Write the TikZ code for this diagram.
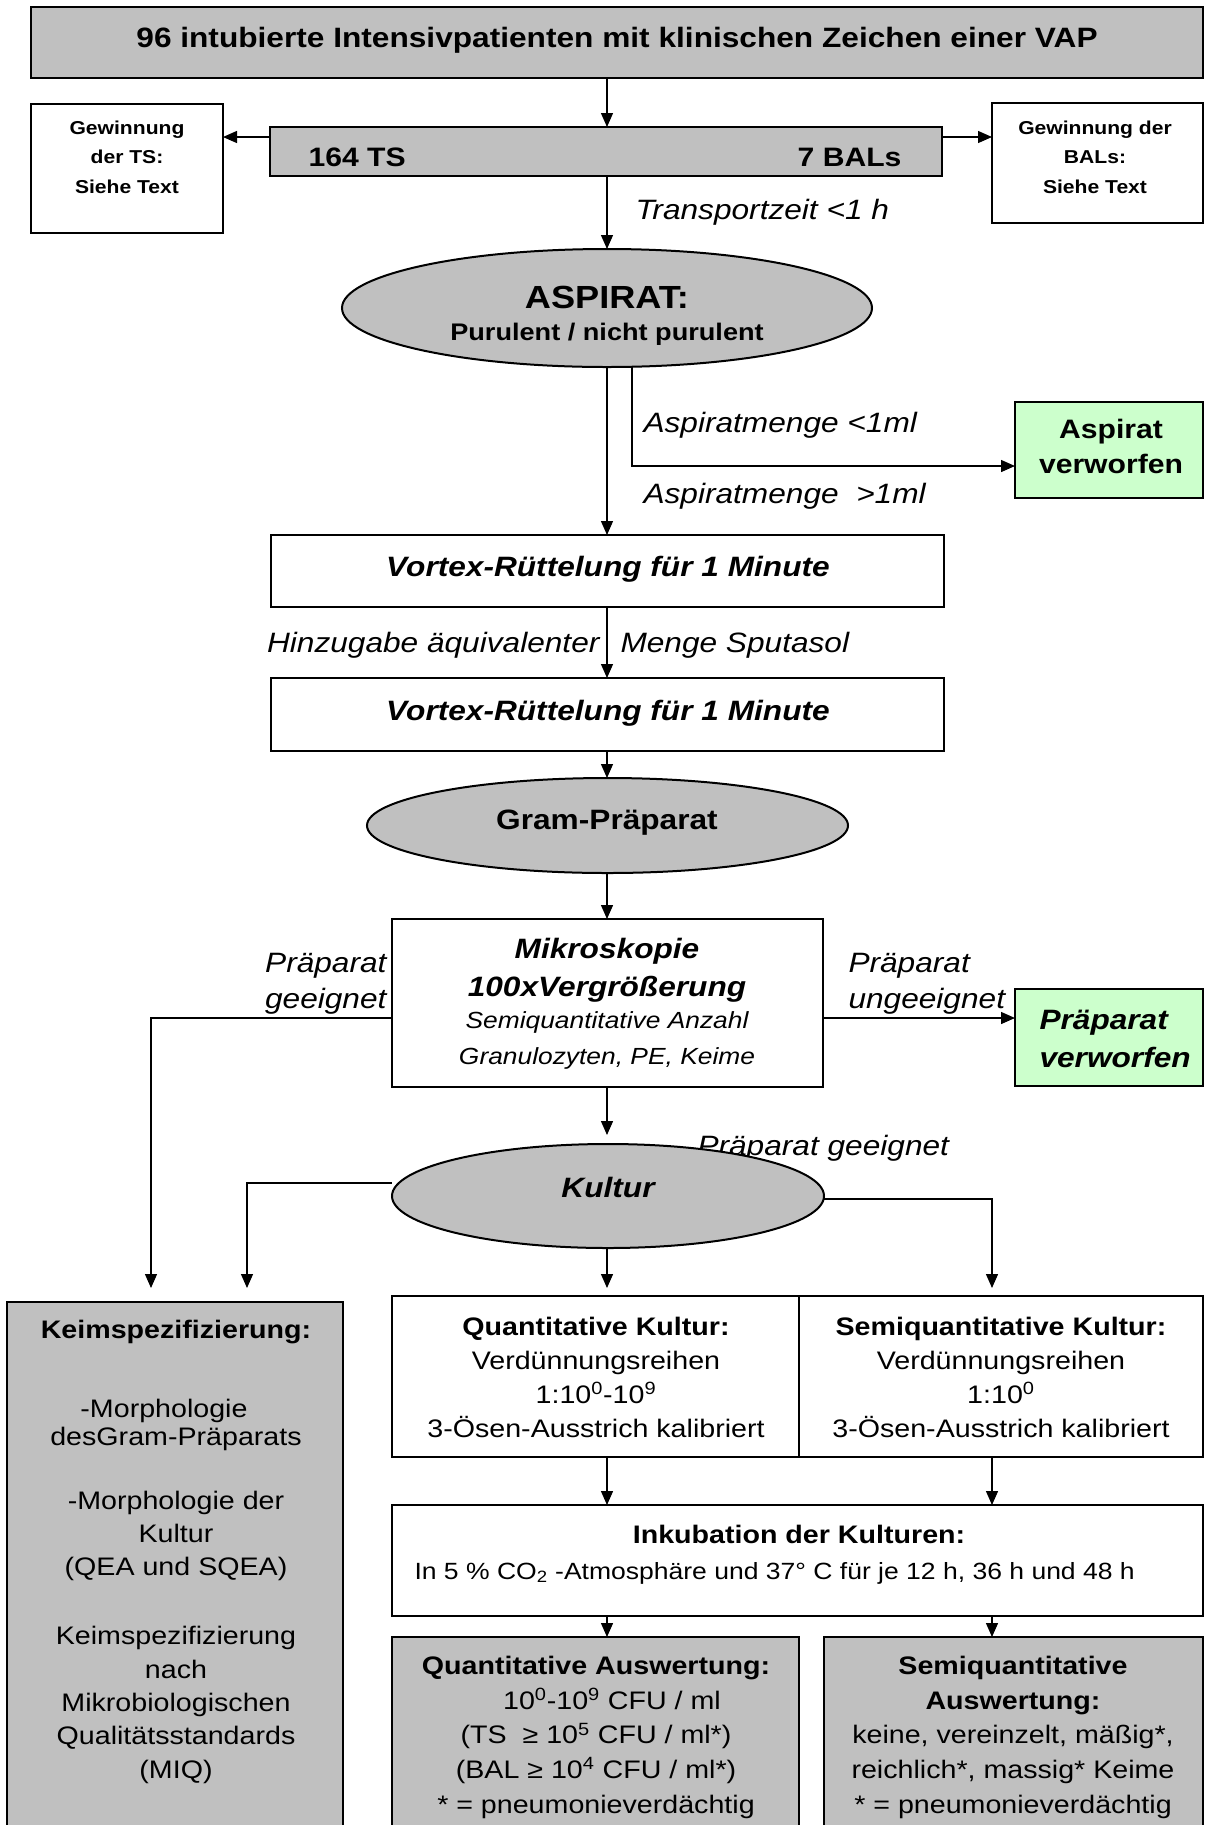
\documentclass[tikz,border=0pt]{standalone}
\usepackage{fontspec}
\setmainfont{Liberation Sans}[FakeStretch=1.13]
\usetikzlibrary{arrows.meta,shapes.geometric}

\definecolor{fillgray}{RGB}{192,192,192}
\definecolor{fillgreen}{RGB}{204,255,204}
\newcommand{\fsz}[2]{\fontsize{#1}{#2}\selectfont}

\tikzset{every picture/.style={line width=0.75pt}}
\tikzset{
  rbox/.style 2 args={draw, line width=1.5pt, inner sep=0pt, outer sep=0pt, anchor=north west,
    minimum width=#1*0.75pt, minimum height=#2*0.75pt},
  oval/.style 2 args={draw, ellipse, fill=fillgray, line width=1.5pt, inner sep=0pt, outer sep=0pt,
    minimum width=#1*0.75pt, minimum height=#2*0.75pt},
  conn/.style={line width=1pt, -{Triangle[length=10.5pt,width=9pt]}},
  txt/.style={inner sep=0.75pt, anchor=base, align=center},
  lbl/.style={font=\fsz{21pt}{27pt}\itshape},
  bbi/.style={font=\fsz{21pt}{28.5pt}\bfseries\itshape},
  body/.style={font=\fsz{19pt}{#1}},
}

\begin{document}
\begin{tikzpicture}[x=0.75pt,y=0.75pt,yscale=-1,xscale=1]
\useasboundingbox (0,0) rectangle (1205,1825);
%Shape: Rectangle
\node [rbox={1172}{71}, fill=fillgray] (patients) at (31,7) {};
\node [rbox={192}{129}] (tsget) at (31,104) {};
\node [rbox={672}{49}, fill=fillgray] (tsbox) at (270,127) {};
\node [rbox={211}{120}] (balget) at (992,103) {};
%Shape: Ellipse
\node [oval={530}{118}] (aspirat) at (607,308) {};
%Shape: Rectangle
\node [rbox={188}{96}, fill=fillgreen] (dropasp) at (1015,402) {};
\node [rbox={673}{72}] (vortexa) at (271,535) {};
\node [rbox={673}{73}] (vortexb) at (271,678) {};
%Shape: Ellipse
\node [oval={481}{95}] (gram) at (607.5,825.5) {};
%Shape: Rectangle
\node [rbox={431}{168}] (mikro) at (392,919) {};
\node [rbox={188}{97}, fill=fillgreen] (dropgram) at (1015,989) {};
% Text Node
\node [txt, anchor=base west, lbl] (okkulturtxt) at (696,1155) {Präparat geeignet};
%Shape: Ellipse
\node [oval={432}{104}] (kultur) at (608,1196) {};
%Shape: Rectangle
\node [rbox={336}{540}, fill=fillgray] (keim) at (7,1302) {};
\node [rbox={407}{161}] (quantk) at (392,1296) {};
\node [rbox={404}{161}] (semik) at (799,1296) {};
\node [rbox={811}{111}] (inkub) at (392,1505) {};
\node [rbox={407}{200}, fill=fillgray] (quanta) at (392,1637) {};
\node [rbox={379}{200}, fill=fillgray] (semia) at (824,1637) {};

\coordinate (axis) at (607,0);
\coordinate (sideline) at (0,137);
\coordinate (aspcut) at (632,466);
\coordinate (okline) at (0,1018);
\coordinate (leftdrop) at (151,1288);
\coordinate (kulleft) at (247,1183);
\coordinate (kulright) at (992,1199);
\coordinate (rightdrop) at (992,1288);

%Straight Lines
\draw [conn] (patients.south -| axis) -- (tsbox.north -| axis);
\draw [conn] (tsbox.west |- sideline) -- (tsget.east |- sideline);
\draw [conn] (tsbox.east |- sideline) -- (balget.west |- sideline);
\draw [conn] (tsbox.south -| axis) -- (aspirat.north);
\draw [conn] (aspirat.south) -- (vortexa.north -| axis);
\draw [conn] (aspirat.south -| aspcut) -- (aspcut) -- (dropasp.west |- aspcut);
\draw [conn] (vortexa.south -| axis) -- (vortexb.north -| axis);
\draw [conn] (vortexb.south -| axis) -- (gram.north -| axis);
\draw [conn] (gram.south -| axis) -- (mikro.north -| axis);
\draw [conn] (mikro.east |- okline) -- (dropgram.west |- okline);
\draw [conn] (mikro.west |- okline) -| (leftdrop);
\draw [conn, shorten >=6.75pt] (mikro.south -| axis) -- (kultur.north -| axis);
\draw [conn] (kultur.west |- kulleft) -- (kulleft) -- (kulleft |- leftdrop);
\draw [conn] (kultur.east |- kulright) -- (kulright) -- (rightdrop);
\draw [conn] (kultur.south -| axis) -- (leftdrop -| axis);
\draw [conn] (quantk.south -| axis) -- (inkub.north -| axis);
\draw [conn] (semik.south -| rightdrop) -- (inkub.north -| rightdrop);
\draw [conn] (inkub.south -| axis) -- (quanta.north -| axis);
\draw [conn] (inkub.south -| rightdrop) -- (semia.north -| rightdrop);

% Text Node (multi-line nodes sit on the baseline of their last line)
\node [txt, font=\fsz{21pt}{25pt}\bfseries] (toptxt) at (617,47) {96 intubierte Intensivpatienten mit klinischen Zeichen einer VAP};
\node [txt, anchor=base west, font=\fsz{20pt}{24pt}\bfseries] (tsnum) at (307,166) {164 TS};
\node [txt, anchor=base east, font=\fsz{20pt}{24pt}\bfseries] (balnum) at (903,166) {7 BALs};
\node [txt, font=\fsz{14pt}{22pt}\bfseries] (tsgettxt) at (127,193) {Gewinnung\\der TS:\\Siehe Text};
\node [txt, font=\fsz{14pt}{22pt}\bfseries] (balgettxt) at (1095,193) {Gewinnung der\\BALs:\\Siehe Text};
\node [txt, anchor=base west, lbl] (transporttxt) at (634,219) {Transportzeit <1 h};
\node [txt, font=\fsz{24pt}{28pt}\bfseries] (aspirattxt) at (607,308) {ASPIRAT:};
\node [txt, font=\fsz{18pt}{22pt}\bfseries] (purulenttxt) at (607,340) {Purulent / nicht purulent};
\node [txt, anchor=base west, lbl] (mengelow) at (642,432) {Aspiratmenge <1ml};
\node [txt, anchor=base west, lbl] (mengehigh) at (642,503) {Aspiratmenge\ \ >1ml};
\node [txt, font=\fsz{20pt}{26pt}\bfseries] (dropasptxt) at (1111,473) {Aspirat\\verworfen};
\node [txt, bbi] (vortexatxt) at (608,576) {Vortex-Rüttelung für 1 Minute};
\node [txt, anchor=base east, lbl] (hinzutxt) at (601,652) {Hinzugabe äquivalenter};
\node [txt, anchor=base west, lbl] (sputatxt) at (619,652) {Menge Sputasol};
\node [txt, bbi] (vortexbtxt) at (608,720) {Vortex-Rüttelung für 1 Minute};
\node [txt, font=\fsz{21pt}{25pt}\bfseries] (gramtxt) at (607,829) {Gram-Präparat};
\node [txt, bbi] (mikrotxt) at (607,996) {Mikroskopie\\100xVergrößerung};
\node [txt, font=\fsz{17.5pt}{27pt}\itshape] (anzahltxt) at (607,1064) {Semiquantitative Anzahl\\Granulozyten, PE, Keime};
\node [txt, anchor=base east, align=right, lbl] (oklefttxt) at (388,1008) {Präparat\\geeignet};
\node [txt, anchor=base west, align=left, lbl] (notoktxt) at (847,1008) {Präparat\\ungeeignet};
\node [txt, anchor=base west, align=left, bbi] (dropgramtxt) at (1038,1067) {Präparat\\verworfen};
\node [txt, bbi] (kulturtxt) at (608,1197) {Kultur};
\node [txt, font=\fsz{19pt}{25pt}\bfseries] (keimtitle) at (176,1338) {Keimspezifizierung:};
\node [txt, body=21pt] (keimtxta) at (176,1445) {-Morphologie\hspace*{18pt}\\desGram-Präparats};
\node [txt, body=24.5pt] (keimtxtb) at (176,1575) {-Morphologie der\\Kultur\\(QEA und SQEA)};
\node [txt, body=25pt] (keimtxtc) at (176,1778) {Keimspezifizierung\\nach\\Mikrobiologischen\\Qualitätsstandards\\(MIQ)};
\node [txt, body=25.5pt] (quantktxt) at (596,1437) {\textbf{Quantitative Kultur:}\\Verdünnungsreihen\\1:10\textsuperscript{0}-10\textsuperscript{9}\\3-Ösen-Ausstrich kalibriert};
\node [txt, body=25.5pt] (semiktxt) at (1001,1437) {\textbf{Semiquantitative Kultur:}\\Verdünnungsreihen\\1:10\textsuperscript{0}\\3-Ösen-Ausstrich kalibriert};
\node [txt, font=\fsz{19pt}{23pt}\bfseries] (inkubtitle) at (799,1543) {Inkubation der Kulturen:};
\node [txt, anchor=base west, font=\fsz{17.6pt}{22pt}] (inkubtxt) at (413,1579) {In 5 \% CO\textsubscript{2} -Atmosphäre und 37° C für je 12 h, 36 h und 48 h};
\node [txt, body=26pt] (quantatxt) at (596,1813) {\textbf{Quantitative Auswertung:}\\\hspace*{24pt}10\textsuperscript{0}-10\textsuperscript{9} CFU / ml\\(TS\ \ ≥ 10\textsuperscript{5} CFU / ml*)\\(BAL ≥ 10\textsuperscript{4} CFU / ml*)\\* = pneumonieverdächtig};
\node [txt, body=26pt] (semiatxt) at (1013,1813) {\textbf{Semiquantitative}\\\textbf{Auswertung:}\\keine, vereinzelt, mäßig*,\\reichlich*, massig* Keime\\* = pneumonieverdächtig};
\end{tikzpicture}
\end{document}
